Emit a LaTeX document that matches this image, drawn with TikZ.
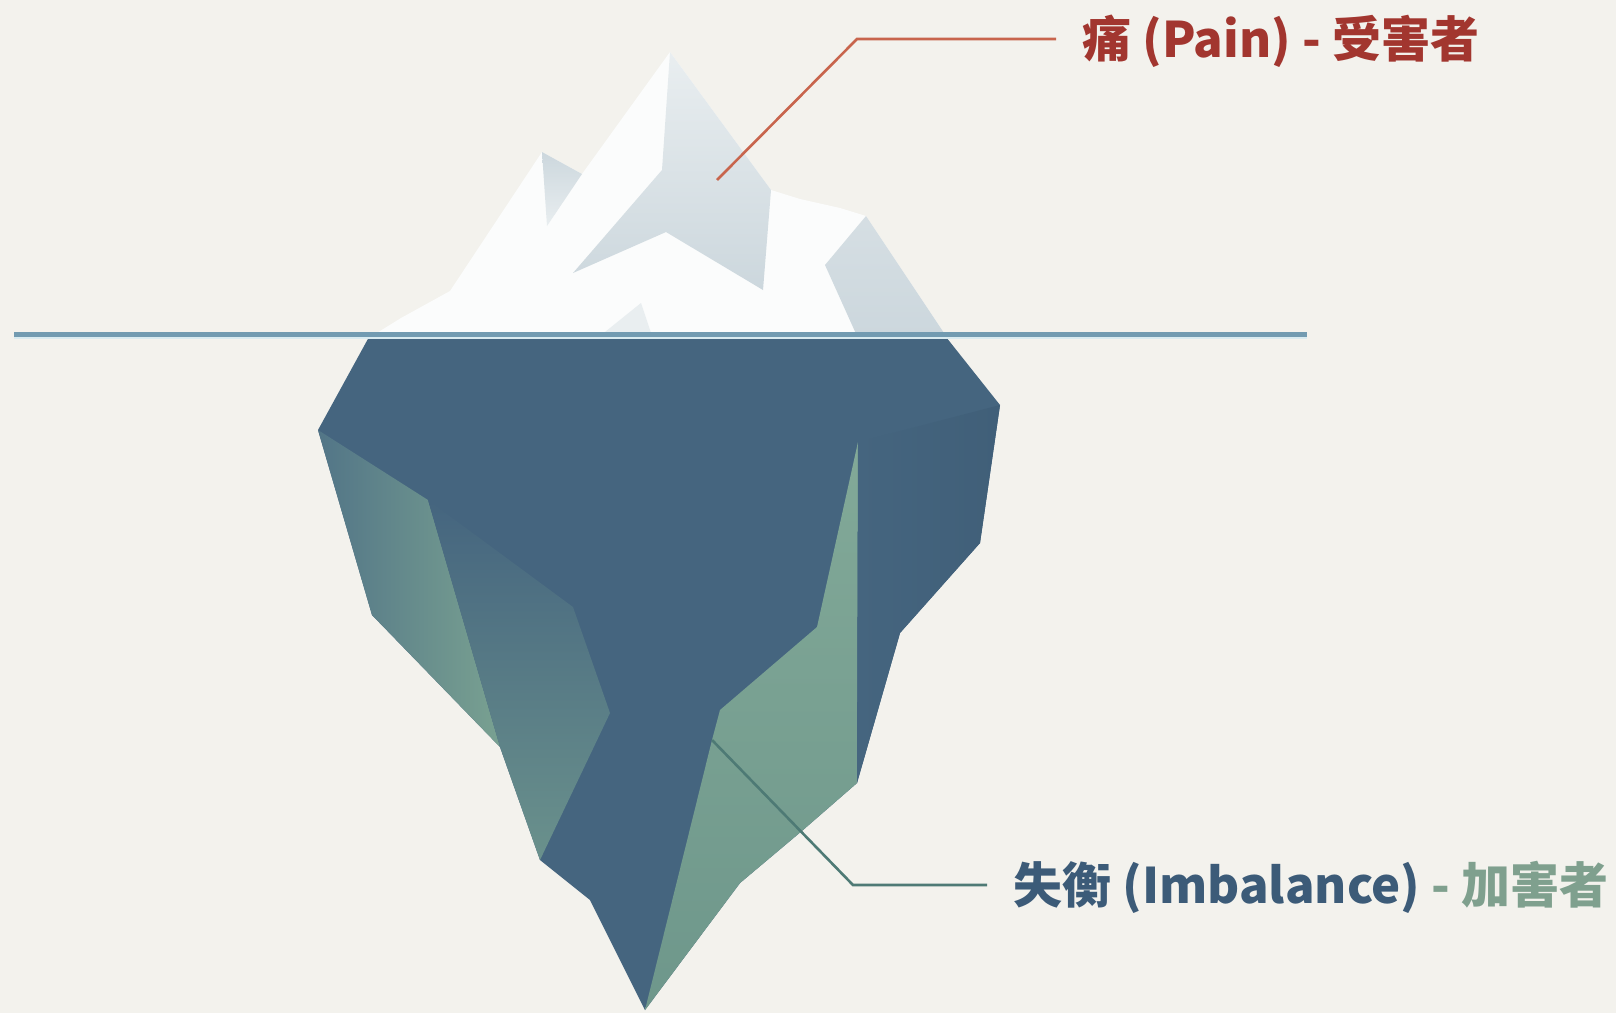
\documentclass[tikz,border=0pt]{standalone}
\usepackage{fontspec}
\setmainfont{Noto Sans CJK SC}
\definecolor{bg}{HTML}{F3F2ED}
\definecolor{snow}{HTML}{FBFCFC}
\definecolor{iceLight}{HTML}{E9EEF0}
\definecolor{iceShade}{HTML}{CCD7DD}
\definecolor{bodyblue}{HTML}{45657F}
\definecolor{bodydeep}{HTML}{3C5A73}
\definecolor{tealdark}{HTML}{527587}
\definecolor{tealgreen}{HTML}{79A191}
\definecolor{midteal}{HTML}{6A918C}
\definecolor{faceGreen}{HTML}{82A998}
\definecolor{faceGreenDark}{HTML}{6E978B}
\definecolor{water}{HTML}{729BB1}
\definecolor{waterhi}{HTML}{D9EBF0}
\definecolor{painred}{HTML}{A2362F}
\definecolor{painline}{HTML}{C8654D}
\definecolor{imbblue}{HTML}{3C5B78}
\definecolor{imbgreen}{HTML}{7FA08E}
\definecolor{imbline}{HTML}{4E7A75}
\begin{document}
\begin{tikzpicture}[x=1pt,y=-1pt,
  labeltext/.style={anchor=base west, inner sep=0pt,
    font=\fontsize{49}{59}\selectfont\bfseries},
  leader/.style={line width=2.6pt, line join=miter}]
% paper
\fill[bg] (0,0) rectangle (1616,1013);
\useasboundingbox (0,0) rectangle (1616,1013);

% ---- tip above the water ----
\fill[snow] (372,336) -- (401,318) -- (450,291) -- (542,152) -- (582,174)
  -- (670,52) -- (771,190) -- (800,199) -- (840,208) -- (866,216)
  -- (946,336) -- cycle;
% shaded face of the main peak
\shade[top color=iceLight, bottom color=iceShade]
  (670,52) -- (662,170) -- (573,273) -- (666,232) -- (763,290) -- (771,190) -- cycle;
% small left peak
\shade[top color=iceShade, bottom color=iceLight]
  (542,152) -- (582,174) -- (547,226) -- cycle;
% right shoulder
\shade[top color=iceShade!80!snow, bottom color=iceShade]
  (866,216) -- (946,336) -- (857,336) -- (825,265) -- cycle;
% faint facet near the base
\fill[iceLight] (641,303) -- (600,336) -- (652,336) -- cycle;

% ---- body under the water ----
\fill[bodyblue] (369,337) -- (318,430) -- (372,615) -- (500,747) -- (540,860)
  -- (590,900) -- (645,1010) -- (740,883) -- (803,830) -- (857,783)
  -- (900,633) -- (980,543) -- (1000,405) -- (946,337) -- cycle;
% left outer facet
\shade[left color=tealdark, right color=tealgreen]
  (318,430) -- (428,500) -- (500,747) -- (372,615) -- cycle;
% left middle facet, fading into the body at its top
\shade[top color=bodyblue, middle color=bodyblue!80!midteal, bottom color=midteal]
  (428,500) -- (573,607) -- (610,713) -- (540,860) -- (500,747) -- cycle;
% right green wedge
\shade[top color=faceGreen, bottom color=faceGreenDark]
  (858,442) -- (857,783) -- (803,830) -- (740,883) -- (645,1010)
  -- (712,740) -- (720,710) -- (817,627) -- cycle;
% slightly darker right flank
\shade[left color=bodyblue, right color=bodydeep!55!bodyblue]
  (858,442) -- (1000,405) -- (980,543) -- (900,633) -- (857,783) -- cycle;

% ---- water line ----
\coordinate (wl) at (14,334);
\coordinate (wr) at (1307,334);
\draw[waterhi, line width=2pt] ([yshift=-3.8pt]wl) -- ([yshift=-3.8pt]wr);
\draw[water, line width=5pt] (wl) -- (wr);

% ---- labels ----
\node[labeltext, text=painred] (pain) at (1082,57) {痛 (Pain) - 受害者};
\node[labeltext, text=imbblue] (imb) at (1013,903)
  {失衡 (Imbalance) \textcolor{imbgreen}{- 加害者}};

% ---- leaders ----
\coordinate (painTip) at (717,180);
\coordinate (painBend) at (857,39);
\draw[leader, painline, shorten >=26pt]
  (painTip) -- (painBend) -- (painBend -| pain.west);
\coordinate (imbTip) at (712,740);
\coordinate (imbBend) at (853,885);
\draw[leader, imbline, shorten >=26pt]
  (imbTip) -- (imbBend) -- (imbBend -| imb.west);
\end{tikzpicture}
\end{document}
